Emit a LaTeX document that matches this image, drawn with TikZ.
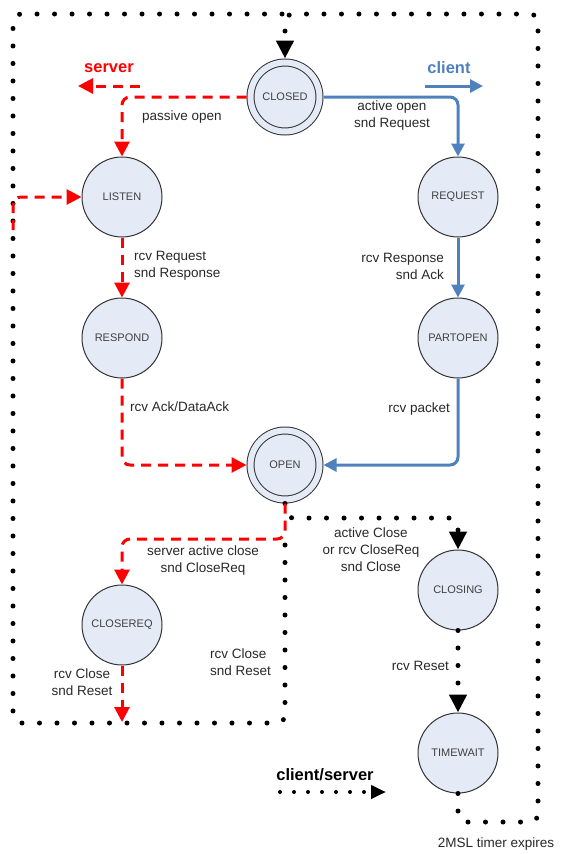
\documentclass[tikz,border=0pt]{standalone}
\usepackage{fontspec}
\setmainfont{Liberation Sans}
\usetikzlibrary{arrows.meta}
\definecolor{nfill}{RGB}{229,235,246}
\definecolor{cblue}{RGB}{79,129,189}
\definecolor{sred}{RGB}{255,0,0}
\definecolor{txt}{RGB}{40,40,40}
\begin{document}
\begin{tikzpicture}[x=1pt,y=-1pt,
  state/.style={circle,draw=black!80,line width=1pt,fill=nfill,minimum size=80pt,inner sep=0pt,
    font=\fontsize{11}{13}\selectfont,text=black!75},
  dstate/.style={state,minimum size=69pt,double=nfill,double distance=6pt,outer sep=4pt},
  srv/.style={draw=sred,line width=3pt,dash pattern=on 10pt off 7pt,rounded corners=8pt,
    -{Triangle[length=15pt,width=15pt]}},
  cli/.style={draw=cblue,line width=3pt,rounded corners=8pt,
    -{Triangle[length=13pt,width=13pt]}},
  dotl/.style={draw=black,line width=5pt,line cap=round,dash pattern=on 0pt off 17.5pt,rounded corners=8pt},
  dota/.style={dotl,-{Triangle[length=18pt,width=17pt]}},
  lbl/.style={font=\fontsize{13.5}{17}\selectfont,text=txt,align=center,inner sep=0pt},
  lgd/.style={font=\bfseries\fontsize{16.5}{19}\selectfont,inner sep=0pt}
]
\useasboundingbox (0,0) rectangle (560,854);

% states
\node[dstate] (closed) at (285,97) {CLOSED};
\node[state] (listen) at (122,197) {LISTEN};
\node[state] (request) at (458,197) {REQUEST};
\node[state] (respond) at (122,338) {RESPOND};
\node[state] (partopen) at (458,338) {PARTOPEN};
\node[dstate] (open) at (285,465) {OPEN};
\node[state] (closereq) at (122,625) {CLOSEREQ};
\node[state] (closing) at (458,590) {CLOSING};
\node[state] (timewait) at (458,753) {TIMEWAIT};

% helper coordinates
\coordinate (topmid) at (285,14);
\coordinate (topleft) at (13,14);
\coordinate (topright) at (538,14);
\coordinate (botleft) at (13,723);
\coordinate (botmid) at (285,723);
\coordinate (openlow) at (285,545);
\coordinate (twlow) at (458,822);
\coordinate (twright) at (538,822);
\coordinate (redbend) at (285,539);
\coordinate (dotbend) at (285,518);
\coordinate (leftred) at (13,230);
\coordinate (crend) at (122,722);
\coordinate (sA) at (140,86);
\coordinate (sB) at (78,86);
\coordinate (cA) at (425,86);
\coordinate (cB) at (483,86);
\coordinate (lA) at (280,792);
\coordinate (lB) at (386,792);

% dotted loops (client/server)
\draw[dotl] (openlow) -- (botmid) -- (botleft) -- (topleft) -- (topmid);
\draw[dota] (timewait.south) -- (twlow) -- (twright) -- (topright) -- (topmid) -- (closed.north);
\draw[dota] (open.south) -- (dotbend) -| (closing.north);
\draw[dota] (closing.south) -- (timewait.north);

% server (red dashed)
\draw[srv] (closed.west) -| (listen.north);
\draw[srv] (listen.south) -- (respond.north);
\draw[srv] (respond.south) |- (open.west);
\draw[srv] (open.south) -- (redbend) -| (closereq.north);
\draw[srv] (closereq.south) -- (crend);
\draw[srv] (leftred) |- (listen.west);

% client (blue)
\draw[cli] (closed.east) -| (request.north);
\draw[cli] (request.south) -- (partopen.north);
\draw[cli] (partopen.south) |- (open.east);

% legends
\draw[srv] (sA) -- (sB);
\node[lgd,text=sred] (lsrv) at (109,68) {server};
\draw[cli] (cA) -- (cB);
\node[lgd,text=cblue] (lcli) at (449,68) {client};
\draw[dota,line width=4pt,dash pattern=on 0pt off 14pt,-{Triangle[length=15pt,width=13pt]}] (lA) -- (lB);
\node[lgd,text=black] (lcs) at (325,775) {client/server};

% labels
\node[lbl] (t1) at (182,117) {passive open};
\node[lbl] (t2) at (392,116) {active open\\snd Request};
\node[lbl,anchor=west,align=left] (t3) at (134,266) {rcv Request\\snd Response};
\node[lbl,anchor=east,align=right] (t4) at (444,266) {rcv Response\\snd Ack};
\node[lbl,anchor=west] (t5) at (130,407) {rcv Ack/DataAck};
\node[lbl,anchor=east] (t6) at (450,409) {rcv packet};
\node[lbl] (t7) at (203,561) {server active close\\snd CloseReq};
\node[lbl] (t8) at (371,550) {active Close\\or rcv CloseReq\\snd Close};
\node[lbl,anchor=west,align=left] (t9) at (210,662) {rcv Close\\snd Reset};
\node[lbl] (t10) at (82,682) {rcv Close\\snd Reset};
\node[lbl,anchor=east] (t11) at (449,666) {rcv Reset};
\node[lbl] (t12) at (496,844) {2MSL timer expires};
\end{tikzpicture}
\end{document}
